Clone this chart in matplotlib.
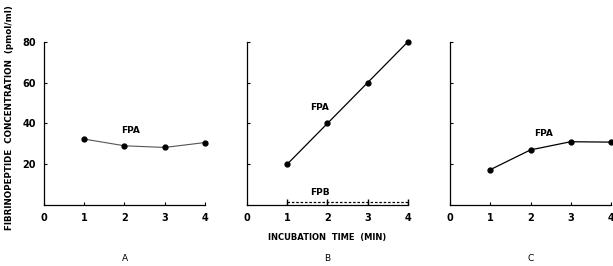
import matplotlib.pyplot as plt
import numpy as np

# incubation time (min)
times = [1, 2, 3, 4]
xticks = [0, 1, 2, 3, 4]
yticks = [20, 40, 60, 80]

# fibrinopeptide concentration (pmol/ml)
fpa_a = [32.3, 29.0, 28.2, 30.6]
fpa_b = [20, 40, 60, 80]
fpb_b = [1.7, 1.7, 1.7, 1.7]
fpa_c = [17.3, 27.0, 31.0, 30.8]

panel_names = ['A', 'B', 'C']

fig = plt.figure(figsize=(6.13, 2.66), dpi=100)
lefts = [44 / 613, 247 / 613, 450 / 613]
width = 161 / 613
bottom = 1 - 205 / 266
height = (205 - 41.7) / 266

axes = []
for left in lefts:
    ax = fig.add_axes([left, bottom, width, height])
    ax.set_xlim(0, 4)
    ax.set_ylim(0, 80)
    for s in ['top', 'right']:
        ax.spines[s].set_visible(False)
    for s in ['left', 'bottom']:
        ax.spines[s].set_linewidth(0.9)
    ax.set_xticks(xticks)
    ax.set_xticklabels([str(t) for t in xticks], fontsize=7, fontweight='bold')
    ax.set_yticks(yticks)
    ax.tick_params(direction='in', length=2.5, width=0.8, pad=6)
    axes.append(ax)

ax_a, ax_b, ax_c = axes
ax_a.set_yticklabels([str(t) for t in yticks], fontsize=7, fontweight='bold')
ax_b.set_yticklabels([])
ax_c.set_yticklabels([])

ax_a.plot(times, fpa_a, '-', color='#555555', lw=0.8, marker='o', ms=3.5,
          mfc='black', mec='black', clip_on=False)
ax_a.text(2.15, 34.5, 'FPA', fontsize=6.5, fontweight='bold', ha='center', va='bottom')

ax_b.plot(times, fpa_b, '-', color='black', lw=0.9, marker='o', ms=3.5, clip_on=False)
ax_b.plot(times, fpb_b, '--', color='black', lw=0.9, marker='|', ms=4,
          dashes=(2, 1.5), clip_on=False)
ax_b.text(1.8, 48, 'FPA', fontsize=6.5, fontweight='bold', ha='center', va='center')
ax_b.text(1.8, 6, 'FPB', fontsize=6.5, fontweight='bold', ha='center', va='center')

ax_c.plot(times, fpa_c, '-', color='black', lw=0.9, marker='o', ms=3.5, clip_on=False)
ax_c.text(2.33, 35, 'FPA', fontsize=6.5, fontweight='bold', ha='center', va='center')

for ax, name in zip(axes, panel_names):
    ax.text(0.5, -0.33, name, transform=ax.transAxes, ha='center', va='center',
            fontsize=6.5)

ax_b.text(0.5, -0.2, 'INCUBATION  TIME  (MIN)', transform=ax_b.transAxes,
          ha='center', va='center', fontsize=6, fontweight='bold')

fig.text(10 / 613, 1 - 118 / 266, 'FIBRINOPEPTIDE  CONCENTRATION  (pmol/ml)',
         rotation=90, ha='center', va='center', fontsize=6.3, fontweight='bold')

fig.savefig('out.png', dpi=100)
